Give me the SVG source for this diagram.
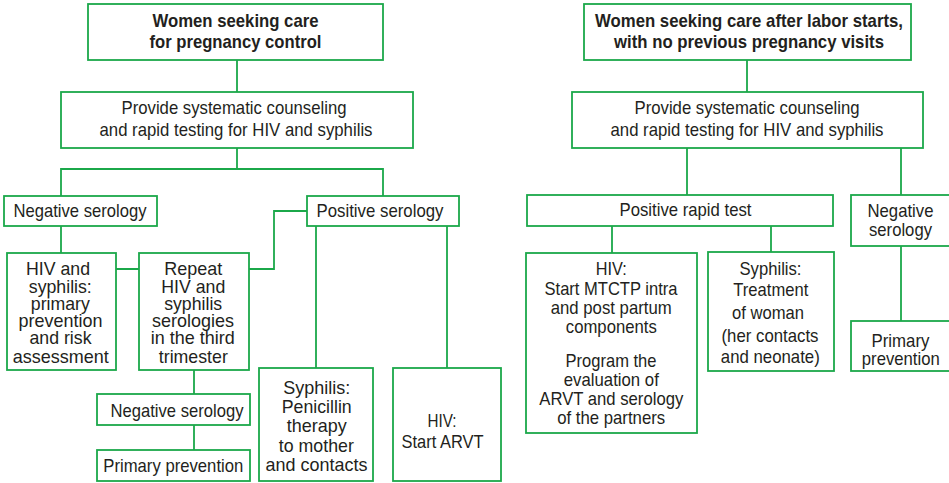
<svg xmlns="http://www.w3.org/2000/svg" width="949" height="483" viewBox="0 0 949 483">
<style>
.box{fill:#fff;stroke:#1ba84a;stroke-width:1.8}
.con{fill:none;stroke:#1ba84a;stroke-width:1.8}
text{font-family:"Liberation Sans",Arial,sans-serif;font-size:19px;fill:#231f20;text-anchor:middle}
.b{font-weight:bold}
</style>
<rect width="949" height="483" fill="#fff"/>
<g id="connectors">
<path class="con" d="M237,60V92M237,148V169M61,196V169H383V196M61,226V253M116,269H139M307,211H274V269H249M194,370V394M194,425V450M316,226V368M447,226V368"/>
<path class="con" d="M747,60V92M687,148V195M901,148V195M612,226V253M771,226V252M901,246V321"/>
</g>
<g id="L-top"><rect class="box" x="88" y="4" width="295" height="56"/>
<text class="b" x="235.5" y="27" textLength="166" lengthAdjust="spacingAndGlyphs">Women seeking care</text>
<text class="b" x="235.5" y="48" textLength="172" lengthAdjust="spacingAndGlyphs">for pregnancy control</text></g>
<g id="L-provide"><rect class="box" x="61" y="92" width="352" height="56"/>
<text x="234" y="114" textLength="225" lengthAdjust="spacingAndGlyphs">Provide systematic counseling</text>
<text x="236" y="135.5" textLength="273" lengthAdjust="spacingAndGlyphs">and rapid testing for HIV and syphilis</text></g>
<g id="L-negative"><rect class="box" x="4" y="196" width="153" height="30"/>
<text x="80" y="216.5" textLength="133" lengthAdjust="spacingAndGlyphs">Negative serology</text></g>
<g id="L-positive"><rect class="box" x="307" y="196" width="152" height="30"/>
<text x="380" y="216.5" textLength="127" lengthAdjust="spacingAndGlyphs">Positive serology</text></g>
<g id="L-primary-risk"><rect class="box" x="7" y="253" width="109" height="117"/>
<text x="58" y="275" textLength="64" lengthAdjust="spacingAndGlyphs">HIV and</text>
<text x="60.3" y="292.7" textLength="63" lengthAdjust="spacingAndGlyphs">syphilis:</text>
<text x="60.3" y="309.7" textLength="59" lengthAdjust="spacingAndGlyphs">primary</text>
<text x="60.5" y="327.3" textLength="84" lengthAdjust="spacingAndGlyphs">prevention</text>
<text x="60.5" y="344.3" textLength="62" lengthAdjust="spacingAndGlyphs">and risk</text>
<text x="60.7" y="362.7" textLength="96" lengthAdjust="spacingAndGlyphs">assessment</text></g>
<g id="L-repeat"><rect class="box" x="139" y="253" width="110" height="117"/>
<text x="193.2" y="275" textLength="58" lengthAdjust="spacingAndGlyphs">Repeat</text>
<text x="193.3" y="292.7" textLength="64" lengthAdjust="spacingAndGlyphs">HIV and</text>
<text x="193.2" y="309.7" textLength="58" lengthAdjust="spacingAndGlyphs">syphilis</text>
<text x="193" y="327.3" textLength="82" lengthAdjust="spacingAndGlyphs">serologies</text>
<text x="192.8" y="344.3" textLength="84" lengthAdjust="spacingAndGlyphs">in the third</text>
<text x="193.3" y="362.7" textLength="69" lengthAdjust="spacingAndGlyphs">trimester</text></g>
<g id="L-negative2"><rect class="box" x="97" y="394" width="153" height="31"/>
<text x="177" y="416.5" textLength="133" lengthAdjust="spacingAndGlyphs">Negative serology</text></g>
<g id="L-primary"><rect class="box" x="97" y="450" width="153" height="31"/>
<text x="173.3" y="471.5" textLength="140" lengthAdjust="spacingAndGlyphs">Primary prevention</text></g>
<g id="L-syphilis"><rect class="box" x="259" y="368" width="114" height="113"/>
<text x="316.7" y="394" textLength="67" lengthAdjust="spacingAndGlyphs">Syphilis:</text>
<text x="316.7" y="413" textLength="70" lengthAdjust="spacingAndGlyphs">Penicillin</text>
<text x="316.7" y="432" textLength="60" lengthAdjust="spacingAndGlyphs">therapy</text>
<text x="316.3" y="451.5" textLength="75" lengthAdjust="spacingAndGlyphs">to mother</text>
<text x="316.5" y="470.7" textLength="102" lengthAdjust="spacingAndGlyphs">and contacts</text></g>
<g id="L-hiv"><rect class="box" x="393" y="368" width="108" height="113"/>
<text x="442" y="426.7" textLength="29" lengthAdjust="spacingAndGlyphs">HIV:</text>
<text x="442.5" y="447.7" textLength="82" lengthAdjust="spacingAndGlyphs">Start ARVT</text></g>
<g id="R-top"><rect class="box" x="584" y="4" width="327" height="56"/>
<text class="b" x="749" y="27" textLength="308" lengthAdjust="spacingAndGlyphs">Women seeking care after labor starts,</text>
<text class="b" x="749" y="48" textLength="270" lengthAdjust="spacingAndGlyphs">with no previous pregnancy visits</text></g>
<g id="R-provide"><rect class="box" x="572" y="92" width="351" height="56"/>
<text x="747" y="114" textLength="225" lengthAdjust="spacingAndGlyphs">Provide systematic counseling</text>
<text x="747" y="135.5" textLength="273" lengthAdjust="spacingAndGlyphs">and rapid testing for HIV and syphilis</text></g>
<g id="R-positive"><rect class="box" x="527" y="195" width="306" height="31"/>
<text x="685.5" y="216" textLength="132" lengthAdjust="spacingAndGlyphs">Positive rapid test</text></g>
<g id="R-negative"><rect class="box" x="851" y="195" width="99" height="51"/>
<text x="900.5" y="217" textLength="66" lengthAdjust="spacingAndGlyphs">Negative</text>
<text x="900.5" y="235.5" textLength="63" lengthAdjust="spacingAndGlyphs">serology</text></g>
<g id="R-hiv"><rect class="box" x="526" y="253" width="171" height="180"/>
<text x="611.3" y="275" textLength="31" lengthAdjust="spacingAndGlyphs">HIV:</text>
<text x="611" y="294.5" textLength="133" lengthAdjust="spacingAndGlyphs">Start MTCTP intra</text>
<text x="611.2" y="314" textLength="121" lengthAdjust="spacingAndGlyphs">and post partum</text>
<text x="611.3" y="333" textLength="91" lengthAdjust="spacingAndGlyphs">components</text>
<text x="611" y="366.7" textLength="91" lengthAdjust="spacingAndGlyphs">Program the</text>
<text x="611.3" y="385.7" textLength="95" lengthAdjust="spacingAndGlyphs">evaluation of</text>
<text x="611.3" y="405" textLength="144" lengthAdjust="spacingAndGlyphs">ARVT and serology</text>
<text x="611.2" y="424.3" textLength="108" lengthAdjust="spacingAndGlyphs">of the partners</text></g>
<g id="R-syphilis"><rect class="box" x="708" y="252" width="126" height="119"/>
<text x="770.5" y="275" textLength="62" lengthAdjust="spacingAndGlyphs">Syphilis:</text>
<text x="770.8" y="295.5" textLength="75" lengthAdjust="spacingAndGlyphs">Treatment</text>
<text x="768" y="318.5" textLength="72" lengthAdjust="spacingAndGlyphs">of woman</text>
<text x="770" y="341.5" textLength="97" lengthAdjust="spacingAndGlyphs">(her contacts</text>
<text x="770.3" y="363" textLength="99" lengthAdjust="spacingAndGlyphs">and neonate)</text></g>
<g id="R-primary"><rect class="box" x="851" y="321" width="99" height="50"/>
<text x="900.5" y="346.5" textLength="58" lengthAdjust="spacingAndGlyphs">Primary</text>
<text x="900.8" y="365" textLength="78" lengthAdjust="spacingAndGlyphs">prevention</text></g>
</svg>
